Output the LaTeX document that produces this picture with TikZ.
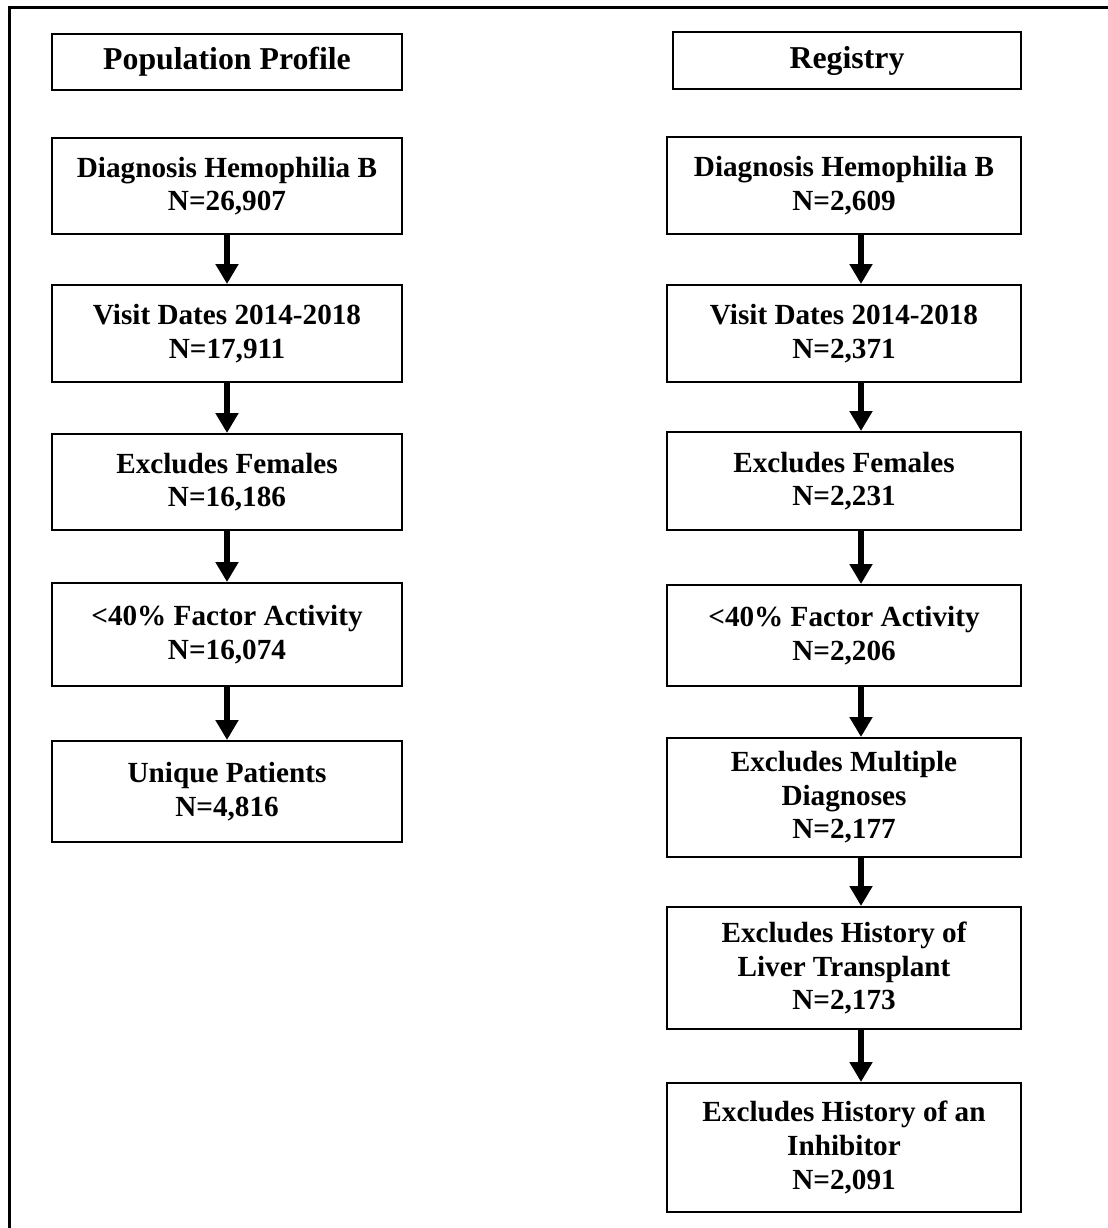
\documentclass[tikz,border=0pt]{standalone}
\usepackage{fontspec}
\setmainfont{Liberation Serif}
\usetikzlibrary{arrows.meta}
\tikzset{
	box/.style={draw, line width=1pt, align=center, inner sep=0pt, font=\bfseries\fontsize{14.6}{16.8}\selectfont},
	lbox/.style={box, minimum width=175pt},
	rbox/.style={box, minimum width=177pt},
	head/.style={box, font=\bfseries\fontsize{15.9}{18}\selectfont},
	flow/.style={line width=2.6pt, -{Triangle[width=11pt,length=10pt]}}
}

\begin{document}
\begin{tikzpicture}[x=0.5pt, y=-0.5pt]
\useasboundingbox (0,0) rectangle (1108,1228);
\draw[line width=1.5pt] (9,1240) -- (9,7) -- (1120,7);
% population profile
\node[head, minimum width=175pt, minimum height=28pt] (pp) at (227,62) {Population Profile};
\node[lbox, minimum height=48pt] (ld) at (227,186) {Diagnosis Hemophilia B\\N=26,907};
\node[lbox, minimum height=48.5pt] (lv) at (227,333.5) {Visit Dates 2014-2018\\N=17,911};
\node[lbox, minimum height=48pt] (lf) at (227,482) {Excludes Females\\N=16,186};
\node[lbox, minimum height=51.5pt] (lp) at (227,634.5) {<40\% Factor Activity\\N=16,074};
\node[lbox, minimum height=50.5pt] (lu) at (227,791.5) {Unique Patients\\N=4,816};
% registry
\node[head, minimum width=174pt, minimum height=28.5pt] (reg) at (847,60.5) {Registry};
\node[rbox, minimum height=48.5pt] (rd) at (844,185.5) {Diagnosis Hemophilia B\\N=2,609};
\node[rbox, minimum height=48.5pt] (rv) at (844,333.5) {Visit Dates 2014-2018\\N=2,371};
\node[rbox, minimum height=49pt] (rf) at (844,481) {Excludes Females\\N=2,231};
\node[rbox, minimum height=50.5pt] (rp) at (844,635.5) {<40\% Factor Activity\\N=2,206};
\node[rbox, minimum height=59.5pt] (rm) at (844,797.5) {Excludes Multiple\\Diagnoses\\N=2,177};
\node[rbox, minimum height=61pt] (rl) at (844,968) {Excludes History of\\Liver Transplant\\N=2,173};
\node[rbox, minimum height=64.5pt] (ri) at (844,1147.5) {Excludes History of an\\Inhibitor\\N=2,091};
\foreach \a/\b in {ld/lv, lv/lf, lf/lp, lp/lu} \draw[flow] (\a.south) -- (\b.north);
\foreach \a/\b in {rd/rv, rv/rf, rf/rp, rp/rm, rm/rl, rl/ri} \draw[flow] ([xshift=8.5pt]\a.south) -- ([xshift=8.5pt]\b.north);
\end{tikzpicture}
\end{document}
